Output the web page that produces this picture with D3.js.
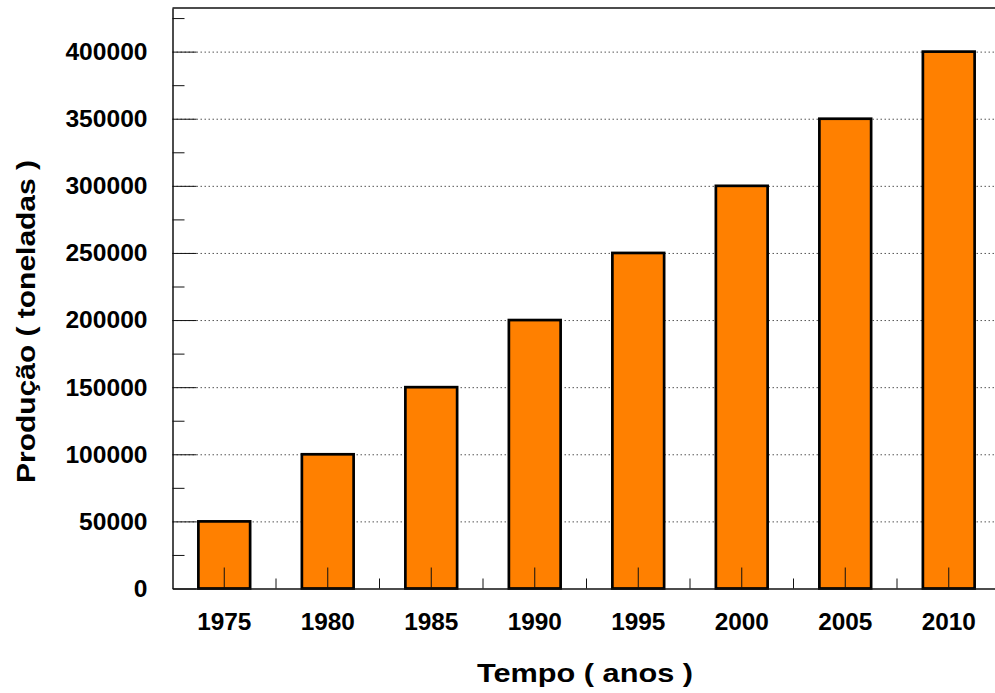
<!DOCTYPE html>
<html>
<head>
<meta charset="utf-8">
<script src="https://cdn.jsdelivr.net/npm/d3@7"></script>
<style>
  body { margin: 0; background: #fff; }
  svg text { font-family: "Liberation Sans", Arial, sans-serif; font-weight: bold; fill: #000; }
</style>
</head>
<body>
<div id="container"></div>
<script>
"use strict";

const width = 995;
const height = 693;

// chart data
const years = ["1975", "1980", "1985", "1990", "1995", "2000", "2005", "2010"];
const production = [50000, 100000, 150000, 200000, 250000, 300000, 350000, 400000];
const yMajorTicks = [0, 50000, 100000, 150000, 200000, 250000, 300000, 350000, 400000];
const yMinorTicks = [25000, 75000, 125000, 175000, 225000, 275000, 325000, 375000, 425000];

const xTitle = "Tempo ( anos )";
const yTitle = "Produção ( toneladas )";

// plot box
const plotLeft = 172.5, plotTop = 8, plotBottom = 588.5, plotRight = 1000.5;

const svg = d3.select("#container").append("svg")
    .attr("width", width)
    .attr("height", height);

const x = d3.scaleBand()
    .domain(years)
    .range([plotLeft, plotRight])
    .paddingInner(0.5)
    .paddingOuter(0.25);

const y = d3.scaleLinear()
    .domain([0, 432500])
    .range([plotBottom, plotTop]);

// dotted gridlines (under the bars)
svg.append("g")
    .attr("transform", `translate(${plotLeft},0)`)
    .call(d3.axisLeft(y).tickValues(yMajorTicks.filter(v => v > 0))
        .tickSize(-(plotRight - plotLeft)).tickFormat(""))
    .call(g => g.select(".domain").remove())
    .call(g => g.selectAll(".tick line")
        .attr("stroke", "#555")
        .attr("stroke-dasharray", "1.5,2.5"));

// top border
svg.append("line")
    .attr("x1", plotLeft).attr("x2", width)
    .attr("y1", plotTop).attr("y2", plotTop)
    .attr("stroke", "#111").attr("stroke-width", 1.5);

// bars
svg.append("g")
    .selectAll("rect")
    .data(years)
    .enter()
    .append("rect")
    .attr("x", d => x(d))
    .attr("y", (d, i) => y(production[i]))
    .attr("width", x.bandwidth())
    .attr("height", (d, i) => y(0) - y(production[i]))
    .attr("fill", "#FF8000")
    .attr("stroke", "#000")
    .attr("stroke-width", 2.7);

// y axis: minor ticks
svg.append("g")
    .attr("transform", `translate(${plotLeft},0)`)
    .call(d3.axisLeft(y).tickValues(yMinorTicks).tickSize(-12).tickFormat(""))
    .call(g => g.select(".domain").remove())
    .call(g => g.selectAll(".tick line").attr("stroke", "#111"));

// y axis: major ticks and labels
svg.append("g")
    .attr("transform", `translate(${plotLeft},0)`)
    .call(d3.axisLeft(y).tickValues(yMajorTicks).tickSize(-24).tickSizeOuter(0)
        .tickPadding(25).tickFormat(d3.format("d")))
    .call(g => g.select(".domain").attr("stroke", "#111").attr("stroke-width", 1.5))
    .call(g => g.selectAll(".tick line").attr("stroke", "#111"))
    .call(g => g.selectAll(".tick text")
        .style("font-size", "24.6px")
        .attr("fill", "#000"));

// x axis: major ticks at the centre of each category
svg.append("g")
    .attr("transform", `translate(0,${plotBottom})`)
    .call(d3.axisBottom(x).tickSize(-21).tickSizeOuter(0).tickPadding(24))
    .call(g => g.select(".domain").attr("stroke", "#111").attr("stroke-width", 1.5))
    .call(g => g.selectAll(".tick line").attr("stroke", "#111"))
    .call(g => g.selectAll(".tick text")
        .style("font-size", "24.4px")
        .attr("fill", "#000"));

// x axis: minor ticks between categories
const gap = (x.step() - x.bandwidth()) / 2;
svg.append("g")
    .selectAll("line")
    .data(years.slice(1))
    .enter()
    .append("line")
    .attr("x1", d => x(d) - gap)
    .attr("x2", d => x(d) - gap)
    .attr("y1", plotBottom)
    .attr("y2", plotBottom - 10)
    .attr("stroke", "#111");

// axis titles
svg.append("text")
    .attr("x", 585)
    .attr("y", 681.5)
    .attr("text-anchor", "middle")
    .attr("textLength", 216)
    .attr("lengthAdjust", "spacingAndGlyphs")
    .style("font-size", "26px")
    .text(xTitle);

svg.append("text")
    .attr("transform", "translate(35,321.5) rotate(-90)")
    .attr("text-anchor", "middle")
    .attr("textLength", 323)
    .attr("lengthAdjust", "spacingAndGlyphs")
    .style("font-size", "26px")
    .text(yTitle);
</script>
</body>
</html>
